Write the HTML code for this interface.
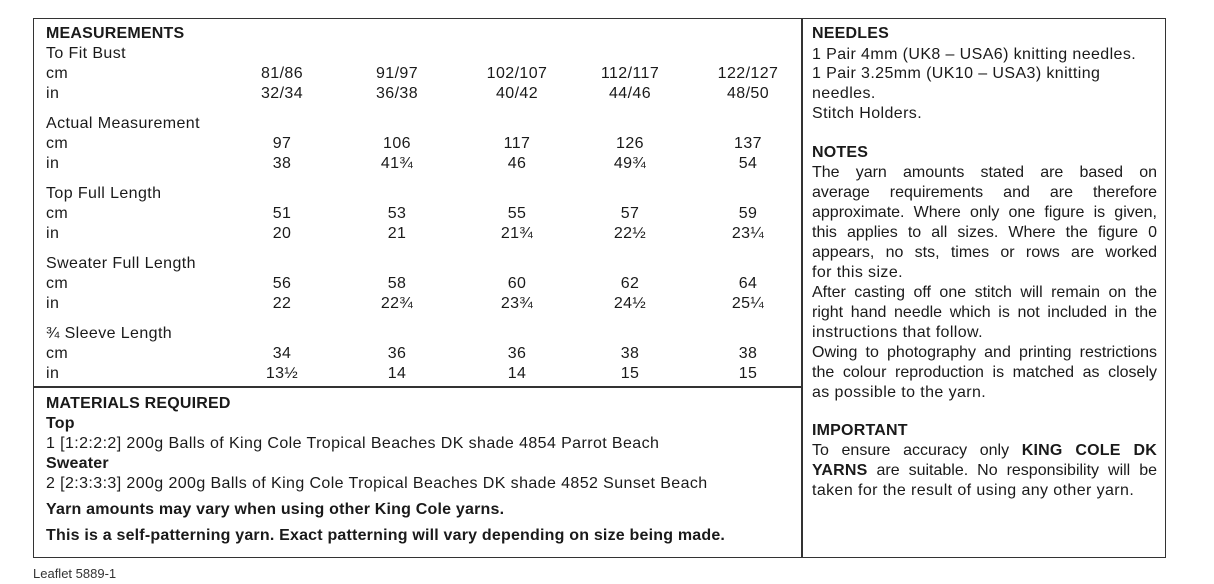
<!DOCTYPE html>
<html><head><meta charset="utf-8"><style>
body{margin:0;width:1214px;height:573px;background:#fff;position:relative;overflow:hidden;font-family:"Liberation Sans",Arial,sans-serif;font-size:16px;color:#1a1a1a;letter-spacing:0.4px}
b{font-weight:bold;letter-spacing:0.2px}
.b{position:absolute;border:1.5px solid #333}
.t{position:absolute;line-height:20px;white-space:nowrap}
.c{position:absolute;line-height:20px;width:100px;text-align:center;white-space:nowrap}
.j{position:absolute;line-height:20px;left:812px;width:345px;text-align:justify;text-align-last:justify;white-space:nowrap;letter-spacing:0}
</style></head><body>
<div class="b" style="left:33px;top:18px;width:1131px;height:538px"></div>
<div style="position:absolute;left:801px;top:18px;width:1.5px;height:540px;background:#333"></div>
<div style="position:absolute;left:33px;top:386px;width:769px;height:1.5px;background:#333"></div>

<div class="t" style="left:46px;top:24px"><b>MEASUREMENTS</b></div>
<div class="t" style="left:46px;top:44px">To Fit Bust</div>
<div class="t" style="left:46px;top:64px">cm</div>
<div class="t" style="left:46px;top:84px">in</div>
<div class="t" style="left:46px;top:114px">Actual Measurement</div>
<div class="t" style="left:46px;top:134px">cm</div>
<div class="t" style="left:46px;top:154px">in</div>
<div class="t" style="left:46px;top:184px">Top Full Length</div>
<div class="t" style="left:46px;top:204px">cm</div>
<div class="t" style="left:46px;top:224px">in</div>
<div class="t" style="left:46px;top:254px">Sweater Full Length</div>
<div class="t" style="left:46px;top:274px">cm</div>
<div class="t" style="left:46px;top:294px">in</div>
<div class="t" style="left:46px;top:324px">¾ Sleeve Length</div>
<div class="t" style="left:46px;top:344px">cm</div>
<div class="t" style="left:46px;top:364px">in</div>

<div class="c" style="left:232px;top:64px">81/86</div><div class="c" style="left:347px;top:64px">91/97</div><div class="c" style="left:467px;top:64px">102/107</div><div class="c" style="left:580px;top:64px">112/117</div><div class="c" style="left:698px;top:64px">122/127</div>
<div class="c" style="left:232px;top:84px">32/34</div><div class="c" style="left:347px;top:84px">36/38</div><div class="c" style="left:467px;top:84px">40/42</div><div class="c" style="left:580px;top:84px">44/46</div><div class="c" style="left:698px;top:84px">48/50</div>
<div class="c" style="left:232px;top:134px">97</div><div class="c" style="left:347px;top:134px">106</div><div class="c" style="left:467px;top:134px">117</div><div class="c" style="left:580px;top:134px">126</div><div class="c" style="left:698px;top:134px">137</div>
<div class="c" style="left:232px;top:154px">38</div><div class="c" style="left:347px;top:154px">41¾</div><div class="c" style="left:467px;top:154px">46</div><div class="c" style="left:580px;top:154px">49¾</div><div class="c" style="left:698px;top:154px">54</div>
<div class="c" style="left:232px;top:204px">51</div><div class="c" style="left:347px;top:204px">53</div><div class="c" style="left:467px;top:204px">55</div><div class="c" style="left:580px;top:204px">57</div><div class="c" style="left:698px;top:204px">59</div>
<div class="c" style="left:232px;top:224px">20</div><div class="c" style="left:347px;top:224px">21</div><div class="c" style="left:467px;top:224px">21¾</div><div class="c" style="left:580px;top:224px">22½</div><div class="c" style="left:698px;top:224px">23¼</div>
<div class="c" style="left:232px;top:274px">56</div><div class="c" style="left:347px;top:274px">58</div><div class="c" style="left:467px;top:274px">60</div><div class="c" style="left:580px;top:274px">62</div><div class="c" style="left:698px;top:274px">64</div>
<div class="c" style="left:232px;top:294px">22</div><div class="c" style="left:347px;top:294px">22¾</div><div class="c" style="left:467px;top:294px">23¾</div><div class="c" style="left:580px;top:294px">24½</div><div class="c" style="left:698px;top:294px">25¼</div>
<div class="c" style="left:232px;top:344px">34</div><div class="c" style="left:347px;top:344px">36</div><div class="c" style="left:467px;top:344px">36</div><div class="c" style="left:580px;top:344px">38</div><div class="c" style="left:698px;top:344px">38</div>
<div class="c" style="left:232px;top:364px">13½</div><div class="c" style="left:347px;top:364px">14</div><div class="c" style="left:467px;top:364px">14</div><div class="c" style="left:580px;top:364px">15</div><div class="c" style="left:698px;top:364px">15</div>

<div class="t" style="left:46px;top:394px"><b>MATERIALS REQUIRED</b></div>
<div class="t" style="left:46px;top:414px"><b>Top</b></div>
<div class="t" style="left:46px;top:434px">1 [1:2:2:2] 200g Balls of King Cole Tropical Beaches DK shade 4854 Parrot Beach</div>
<div class="t" style="left:46px;top:454px"><b>Sweater</b></div>
<div class="t" style="left:46px;top:474px">2 [2:3:3:3] 200g 200g Balls of King Cole Tropical Beaches DK shade 4852 Sunset Beach</div>
<div class="t" style="left:46px;top:500px"><b>Yarn amounts may vary when using other King Cole yarns.</b></div>
<div class="t" style="left:46px;top:526px"><b>This is a self-patterning yarn. Exact patterning will vary depending on size being made.</b></div>

<div class="t" style="left:812px;top:24px"><b>NEEDLES</b></div>
<div class="t" style="left:812px;top:45px">1 Pair 4mm (UK8 – USA6) knitting needles.</div>
<div class="t" style="left:812px;top:64px">1 Pair 3.25mm (UK10 – USA3) knitting</div>
<div class="t" style="left:812px;top:84px">needles.</div>
<div class="t" style="left:812px;top:104px">Stitch Holders.</div>
<div class="t" style="left:812px;top:143px"><b>NOTES</b></div>
<div class="j" style="top:163px">The yarn amounts stated are based on</div>
<div class="j" style="top:183px">average requirements and are therefore</div>
<div class="j" style="top:203px">approximate. Where only one figure is given,</div>
<div class="j" style="top:223px">this applies to all sizes. Where the figure 0</div>
<div class="j" style="top:243px">appears, no sts, times or rows are worked</div>
<div class="t" style="left:812px;top:263px">for this size.</div>
<div class="j" style="top:283px">After casting off one stitch will remain on the</div>
<div class="j" style="top:303px">right hand needle which is not included in the</div>
<div class="t" style="left:812px;top:323px">instructions that follow.</div>
<div class="j" style="top:343px">Owing to photography and printing restrictions</div>
<div class="j" style="top:363px">the colour reproduction is matched as closely</div>
<div class="t" style="left:812px;top:383px">as possible to the yarn.</div>
<div class="t" style="left:812px;top:421px"><b>IMPORTANT</b></div>
<div class="j" style="top:441px">To ensure accuracy only <b>KING COLE DK</b></div>
<div class="j" style="top:461px"><b>YARNS</b> are suitable. No responsibility will be</div>
<div class="t" style="left:812px;top:481px">taken for the result of using any other yarn.</div>

<div class="t" style="left:33px;top:564px;font-size:13px;color:#333;letter-spacing:0">Leaflet 5889-1</div>
</body></html>
